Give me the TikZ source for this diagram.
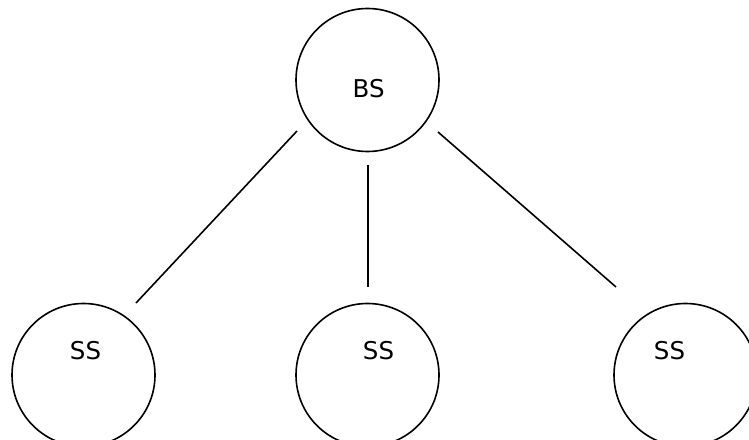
\documentclass[tikz,border=0pt]{standalone}
\usepackage{fontspec}
\setmainfont{DejaVu Sans}
\begin{document}
\begin{tikzpicture}[x=1pt,y=1pt,
  station/.style={circle,draw,line width=1.6pt,minimum size=143pt,inner sep=0pt},
  stlabel/.style={anchor=base,inner sep=0pt,font=\fontsize{24.5}{28}\selectfont},
  link/.style={line width=1.6pt}]
\useasboundingbox (0,0) rectangle (749,439);
\clip (0,0) rectangle (749,439);
% stations (y = 439 - pixel row)
\node[station] (BS) at (367.5,359) {};
\node[station] (SS1) at (83.5,64) {};
\node[station] (SS2) at (367.5,64) {};
\node[station] (SS3) at (685.5,64) {};
% labels
\node[stlabel] (tBS) at (368.7,341.3) {BS};
\node[stlabel] (tSS1) at (85.5,80) {SS};
\node[stlabel] (tSS2) at (378.5,80) {SS};
\node[stlabel] (tSS3) at (669.5,80) {SS};
% connector end points
\coordinate (a1) at (297,308);
\coordinate (b1) at (136,136);
\coordinate (a2) at (367.7,274);
\coordinate (b2) at (367.7,152);
\coordinate (a3) at (438,307);
\coordinate (b3) at (616,152);
\draw[link] (a1) -- (b1);
\draw[link] (a2) -- (b2);
\draw[link] (a3) -- (b3);
\end{tikzpicture}
\end{document}
